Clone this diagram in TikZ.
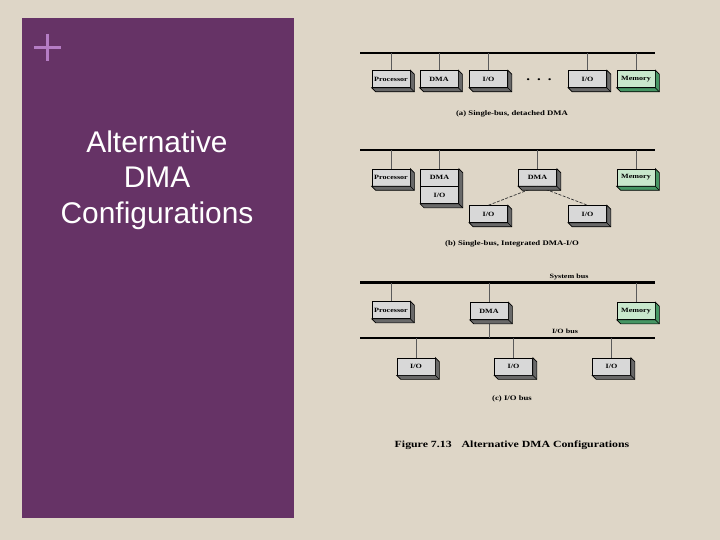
\documentclass[tikz,border=0pt]{standalone}
\usepackage{fontspec}
\setmainfont{Liberation Serif}
\newfontfamily\titlefont{Liberation Sans}
\newfontfamily\figfont[FakeStretch=1.25]{Liberation Serif}
\usetikzlibrary{positioning, calc}
\definecolor{slidebg}{RGB}{222,214,199}
\definecolor{panelpurple}{RGB}{102,51,102}
\definecolor{pluspink}{RGB}{181,125,196}
\definecolor{facegray}{RGB}{216,216,216}
\definecolor{sidegray}{RGB}{105,105,105}
\definecolor{facegreen}{RGB}{200,232,204}
\definecolor{sidegreen}{RGB}{70,150,100}
\definecolor{stubgray}{RGB}{90,90,90}
\tikzset{
  devbox/.style={rectangle, draw=black, line width=0.6bp, fill=facegray, minimum width=38bp, minimum height=17bp, inner sep=0pt, font=\figfont\bfseries\fontsize{6.5}{7}\selectfont},
  membox/.style={devbox, fill=facegreen},
  bus/.style={line width=2.6bp, black},
  stub/.style={line width=0.7bp, stubgray},
  subcap/.style={font=\figfont\bfseries\fontsize{7}{8}\selectfont, inner sep=0pt},
  buslabel/.style={font=\figfont\bfseries\fontsize{6.5}{7}\selectfont, inner sep=0pt}
}
% side and bottom faces of a box (top node, bottom node, face colour)
\newcommand{\boxdepth}[3]{
  \draw[line width=0.6bp, fill=#3] (#1.north east) -- ++(4,4) -- ([shift={(4,4)}]#2.south east) -- ([shift={(4,4)}]#2.south west) -- (#2.south west) -- (#2.south east) -- cycle;
  \draw[line width=0.6bp] (#2.south east) -- ++(4,4);
}

\begin{document}
\begin{tikzpicture}[x=1bp, y=-1bp]

    % Slide background
    \useasboundingbox (0,0) rectangle (720,540);
    \fill[slidebg] (0,0) rectangle (720,540);
    \fill[panelpurple] (22,18) rectangle (294,518);
    \draw[pluspink, line width=3bp] (34,47.5) -- (61,47.5);
    \draw[pluspink, line width=3bp] (47.5,34) -- (47.5,61);
    \node[font=\titlefont\fontsize{30}{35.5}\selectfont, text=white, align=center, inner sep=0pt] (title) at (157,180) {Alternative\\DMA\\Configurations};

    % -------------------------------------------------------------
    % (a) Single-bus, detached DMA
    % -------------------------------------------------------------
    \coordinate (busAw) at (360,53);
    \coordinate (busAe) at (655,53);
    \draw[bus] (busAw) -- (busAe);

    \node[devbox] (procA) at (391,79) {Processor};
    \node[devbox] (dmaA) at (439,79) {DMA};
    \node[devbox] (ioA1) at (488.5,79) {I/O};
    \node[font=\figfont\bfseries\fontsize{12}{12}\selectfont, inner sep=0pt] (dotsA) at (539,80) {.\hspace{7bp}.\hspace{7bp}.};
    \node[devbox] (ioA2) at (587.5,79) {I/O};
    \node[membox] (memA) at (636,79) {Memory};

    \foreach \n in {procA, dmaA, ioA1, ioA2, memA} {
        \draw[stub] (\n.north) -- (\n.north |- busAw);
    }
    \foreach \n in {procA, dmaA, ioA1, ioA2} {
        \boxdepth{\n}{\n}{sidegray}
    }
    \boxdepth{memA}{memA}{sidegreen}
    \node[subcap] (capA) at (512,114) {(a) Single-bus, detached DMA};

    % -------------------------------------------------------------
    % (b) Single-bus, Integrated DMA-I/O
    % -------------------------------------------------------------
    \coordinate (busBw) at (360,150);
    \coordinate (busBe) at (655,150);
    \draw[bus] (busBw) -- (busBe);

    \node[devbox] (procB) at (391,177.5) {Processor};
    \node[devbox] (dmaB1) at (439.5,177.5) {DMA};
    \node[devbox, below=0pt of dmaB1] (ioB0) {I/O};
    \node[devbox] (dmaB2) at (537.5,177.5) {DMA};
    \node[membox] (memB) at (636,177.5) {Memory};
    \node[devbox] (ioB1) at (488.5,214) {I/O};
    \node[devbox] (ioB2) at (587.5,214) {I/O};

    \foreach \n in {procB, dmaB1, dmaB2, memB} {
        \draw[stub] (\n.north) -- (\n.north |- busBw);
    }
    \draw[stub, black!80, dash pattern=on 3bp off 1.5bp] (dmaB2.south) -- (ioB1.north);
    \draw[stub, black!80, dash pattern=on 3bp off 1.5bp] (dmaB2.south) -- (ioB2.north);
    \foreach \n in {procB, dmaB2, ioB1, ioB2} {
        \boxdepth{\n}{\n}{sidegray}
    }
    \boxdepth{dmaB1}{ioB0}{sidegray}
    \boxdepth{memB}{memB}{sidegreen}
    \node[subcap] (capB) at (512,244) {(b) Single-bus, Integrated DMA-I/O};

    % -------------------------------------------------------------
    % (c) I/O bus
    % -------------------------------------------------------------
    \coordinate (sysw) at (360,282.5);
    \coordinate (syse) at (655,282.5);
    \coordinate (iobw) at (360,338);
    \coordinate (iobe) at (655,338);
    \draw[bus] (sysw) -- (syse);
    \draw[bus] (iobw) -- (iobe);
    \node[buslabel] (sysLabel) at (569,276.5) {System bus};
    \node[buslabel] (iobLabel) at (565,331.5) {I/O bus};

    \node[devbox] (procC) at (391,310) {Processor};
    \node[devbox] (dmaC) at (489,311) {DMA};
    \node[membox] (memC) at (636,311) {Memory};
    \node[devbox] (ioC1) at (416,366.5) {I/O};
    \node[devbox] (ioC2) at (513.5,366.5) {I/O};
    \node[devbox] (ioC3) at (611.5,366.5) {I/O};

    \foreach \n in {procC, dmaC, memC} {
        \draw[stub] (\n.north) -- (\n.north |- sysw);
    }
    \draw[stub] (dmaC.south) -- (dmaC.south |- iobw);
    \foreach \n in {ioC1, ioC2, ioC3} {
        \draw[stub] (\n.north) -- (\n.north |- iobw);
    }
    \foreach \n in {procC, dmaC, ioC1, ioC2, ioC3} {
        \boxdepth{\n}{\n}{sidegray}
    }
    \boxdepth{memC}{memC}{sidegreen}
    \node[subcap] (capC) at (512,399) {(c) I/O bus};

    % Figure caption
    \node[font=\figfont\bfseries\fontsize{9.5}{11}\selectfont, inner sep=0pt] (figcap) at (512,445) {Figure 7.13\hspace{10bp}Alternative DMA Configurations};

\end{tikzpicture}
\end{document}
